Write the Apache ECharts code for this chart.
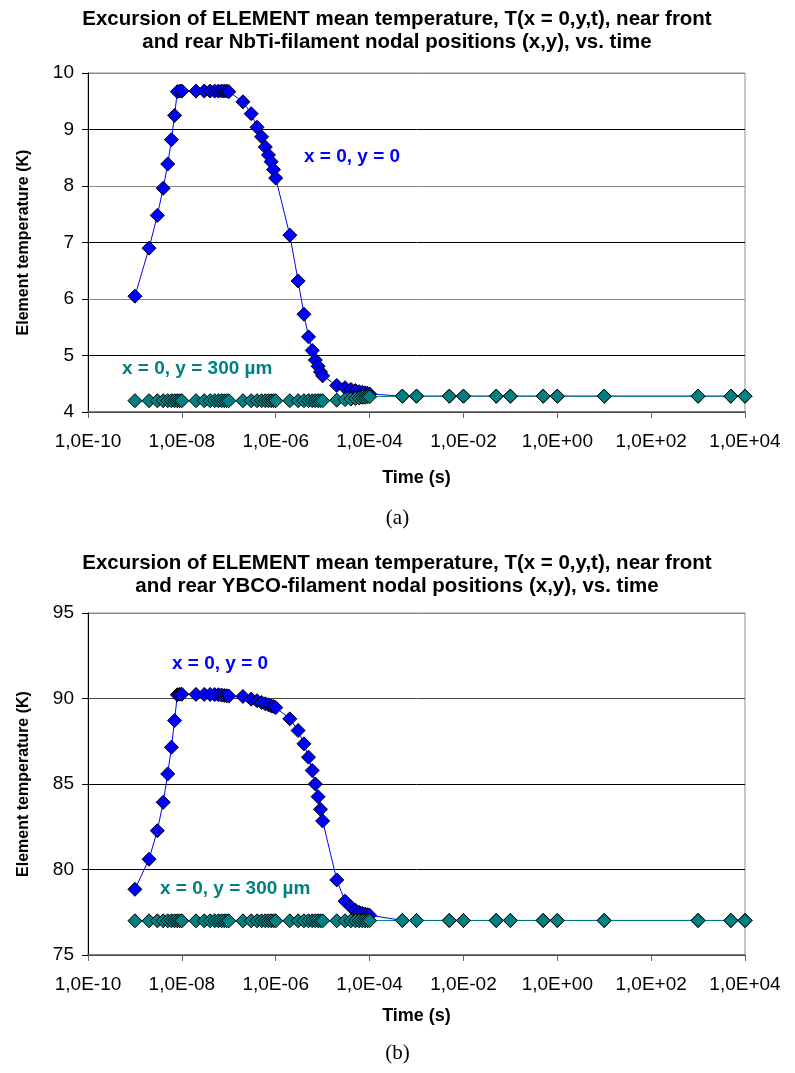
<!DOCTYPE html>
<html>
<head>
<meta charset="utf-8">
<script src="https://cdn.jsdelivr.net/npm/echarts@6/dist/echarts.min.js"></script>
<style>
  html, body { margin: 0; padding: 0; background: #fff; }
  #chart { width: 795px; height: 1073px; }
</style>
</head>
<body>
<div id="chart"></div>
<script>
// Sampling times (s): nine points per decade up to 1e-4, then sparse points
const times = [
  1e-9, 2e-9, 3e-9, 4e-9, 5e-9, 6e-9, 7e-9, 8e-9, 9e-9,
  1e-8, 2e-8, 3e-8, 4e-8, 5e-8, 6e-8, 7e-8, 8e-8, 9e-8,
  1e-7, 2e-7, 3e-7, 4e-7, 5e-7, 6e-7, 7e-7, 8e-7, 9e-7,
  1e-6, 2e-6, 3e-6, 4e-6, 5e-6, 6e-6, 7e-6, 8e-6, 9e-6,
  1e-5, 2e-5, 3e-5, 4e-5, 5e-5, 6e-5, 7e-5, 8e-5, 9e-5,
  1e-4, 5e-4, 1e-3, 5e-3, 1e-2, 5e-2, 1e-1, 5e-1, 1, 10, 1000, 5000, 10000
];

// (a) NbTi filament, element temperature (K)
const nbtiFront = [
  6.05, 6.90, 7.48, 7.96, 8.39, 8.82, 9.25, 9.67, 9.68,
  9.68, 9.68, 9.68, 9.68, 9.68, 9.68, 9.68, 9.68, 9.68,
  9.67, 9.49, 9.28, 9.04, 8.87, 8.69, 8.55, 8.43, 8.29,
  8.14, 7.13, 6.32, 5.73, 5.33, 5.09, 4.92, 4.81, 4.71,
  4.64, 4.47, 4.43, 4.40, 4.38, 4.36, 4.35, 4.34, 4.33,
  4.32, 4.28, 4.28, 4.28, 4.28, 4.28, 4.28, 4.28, 4.28, 4.28, 4.28, 4.28, 4.28
];
const nbtiRear = [
  4.20, 4.20, 4.20, 4.20, 4.20, 4.20, 4.20, 4.20, 4.20,
  4.20, 4.20, 4.20, 4.20, 4.20, 4.20, 4.20, 4.20, 4.20,
  4.20, 4.20, 4.20, 4.20, 4.20, 4.20, 4.20, 4.20, 4.20,
  4.20, 4.20, 4.20, 4.20, 4.20, 4.20, 4.20, 4.20, 4.20,
  4.20, 4.21, 4.22, 4.23, 4.24, 4.25, 4.26, 4.26, 4.27,
  4.27, 4.28, 4.28, 4.28, 4.28, 4.28, 4.28, 4.28, 4.28, 4.28, 4.28, 4.28, 4.28
];

// (b) YBCO filament, element temperature (K)
const ybcoFront = [
  78.84, 80.60, 82.27, 83.93, 85.59, 87.15, 88.71, 90.22, 90.25,
  90.25, 90.24, 90.24, 90.24, 90.23, 90.22, 90.20, 90.18, 90.16,
  90.14, 90.12, 89.96, 89.87, 89.77, 89.69, 89.63, 89.57, 89.53,
  89.47, 88.81, 88.13, 87.35, 86.57, 85.79, 85.00, 84.26, 83.52,
  82.84, 79.39, 78.15, 77.82, 77.62, 77.50, 77.44, 77.39, 77.36,
  77.33, 77.02, 77.02, 77.02, 77.02, 77.02, 77.02, 77.02, 77.02, 77.02, 77.02, 77.02, 77.02
];
const ybcoRear = [
  77.00, 77.00, 77.00, 77.00, 77.00, 77.00, 77.00, 77.00, 77.00,
  77.00, 77.00, 77.00, 77.00, 77.00, 77.00, 77.00, 77.00, 77.00,
  77.00, 77.00, 77.00, 77.00, 77.00, 77.00, 77.00, 77.00, 77.00,
  77.00, 77.00, 77.00, 77.00, 77.00, 77.00, 77.00, 77.00, 77.00,
  77.00, 77.00, 77.00, 77.00, 77.00, 77.00, 77.00, 77.00, 77.00,
  77.01, 77.02, 77.02, 77.02, 77.02, 77.02, 77.02, 77.02, 77.02, 77.02, 77.02, 77.02, 77.02
];

const titleA = 'Excursion of ELEMENT mean temperature, T(x = 0,y,t), near front\nand rear NbTi-filament nodal positions (x,y), vs. time';
const titleB = 'Excursion of ELEMENT mean temperature, T(x = 0,y,t), near front\nand rear YBCO-filament nodal positions (x,y), vs. time';
const frontName = 'x = 0, y = 0';
const rearName = 'x = 0, y = 300 µm';
const xName = 'Time (s)';
const yName = 'Element temperature (K)';

const SANS = 'Liberation Sans, Arial, sans-serif';
const BLUE = '#0000FF';
const TEAL = '#008080';

function pairs(xs, ys) { return xs.map((t, i) => [t, ys[i]]); }

// Labels like 1,0E-08 / 1,0E+04
function sciLabel(v) {
  const e = Math.round(Math.log10(v));
  const s = e < 0 ? '-' : '+';
  const a = Math.abs(e);
  return '1,0E' + s + (a < 10 ? '0' + a : '' + a);
}

function xAxisFor(gridIndex, nameGap) {
  return {
    type: 'log', gridIndex: gridIndex, logBase: 10,
    min: 1e-10, max: 1e4, interval: 2,
    name: xName, nameLocation: 'middle', nameGap: nameGap,
    nameTextStyle: { fontFamily: SANS, fontWeight: 'bold', fontSize: 18, color: '#000' },
    axisLine: { lineStyle: { color: '#666', width: 1.5 } },
    axisTick: { show: true, length: 6, inside: false, lineStyle: { color: '#666' } },
    minorTick: { show: false },
    axisLabel: { formatter: sciLabel, fontFamily: SANS, fontSize: 19, color: '#000', margin: 20 },
    splitLine: { show: false }
  };
}

function yAxisFor(gridIndex, min, max, interval, gridColors) {
  return {
    type: 'value', gridIndex: gridIndex, min: min, max: max, interval: interval,
    name: yName, nameLocation: 'middle', nameGap: 56, nameRotate: 90,
    nameTextStyle: { fontFamily: SANS, fontWeight: 'bold', fontSize: 16, color: '#000' },
    axisLine: { show: true, lineStyle: { color: '#000', width: 1 } },
    axisTick: { show: true, length: 6, lineStyle: { color: '#000' } },
    axisLabel: { fontFamily: SANS, fontSize: 19, color: '#000', margin: 14 },
    splitLine: { show: true, lineStyle: { color: gridColors, width: 1 } }
  };
}

function lineSeries(name, xi, yi, xs, ys, color) {
  return {
    name: name, type: 'line', xAxisIndex: xi, yAxisIndex: yi,
    data: pairs(xs, ys),
    symbol: 'diamond', symbolSize: [14, 14],
    lineStyle: { color: color, width: 1 },
    itemStyle: { color: color, borderColor: '#000', borderWidth: 1 },
    emphasis: { disabled: true },
    animation: false
  };
}

function seriesLabel(text, x, y, color) {
  return {
    type: 'text', left: x, top: y,
    style: { text: text, fill: color, font: 'bold 19px ' + SANS }
  };
}

// Chart heading, slightly condensed bold sans
function heading(text, y) {
  return {
    type: 'text', x: 397, y: y, scaleX: 0.975, scaleY: 1,
    style: { text: text, fill: '#000', font: 'bold 21px ' + SANS, textAlign: 'center', lineHeight: 23 }
  };
}

const chart = echarts.init(document.getElementById('chart'), null, { renderer: 'canvas' });
chart.setOption({
  backgroundColor: '#fff',
  animation: false,
  grid: [
    { left: 88, top: 73, width: 657, height: 339, show: true, borderColor: '#909090', borderWidth: 1, backgroundColor: 'transparent' },
    { left: 88, top: 613, width: 657, height: 342, show: true, borderColor: '#909090', borderWidth: 1, backgroundColor: 'transparent' }
  ],
  xAxis: [xAxisFor(0, 57), xAxisFor(1, 52)],
  yAxis: [
    yAxisFor(0, 4, 10, 1, ['#000', '#000', '#888', '#000', '#888', '#000', '#888']),
    yAxisFor(1, 75, 95, 5, ['#000', '#000', '#000', '#444', '#888'])
  ],
  series: [
    lineSeries(frontName, 0, 0, times, nbtiFront, BLUE),
    lineSeries(rearName, 0, 0, times, nbtiRear, TEAL),
    lineSeries(frontName, 1, 1, times, ybcoFront, BLUE),
    lineSeries(rearName, 1, 1, times, ybcoRear, TEAL)
  ],
  graphic: [
    heading(titleA, 8),
    heading(titleB, 552),
    seriesLabel(frontName, 304, 147, BLUE),
    seriesLabel(rearName, 122, 359, TEAL),
    seriesLabel(frontName, 172, 654, BLUE),
    seriesLabel(rearName, 160, 879, TEAL),
    { type: 'text', left: 'center', top: 508, style: { text: '(a)', fill: '#000', font: '21px Liberation Serif, Times New Roman, serif' } },
    { type: 'text', left: 'center', top: 1043, style: { text: '(b)', fill: '#000', font: '21px Liberation Serif, Times New Roman, serif' } }
  ]
});
</script>
</body>
</html>
